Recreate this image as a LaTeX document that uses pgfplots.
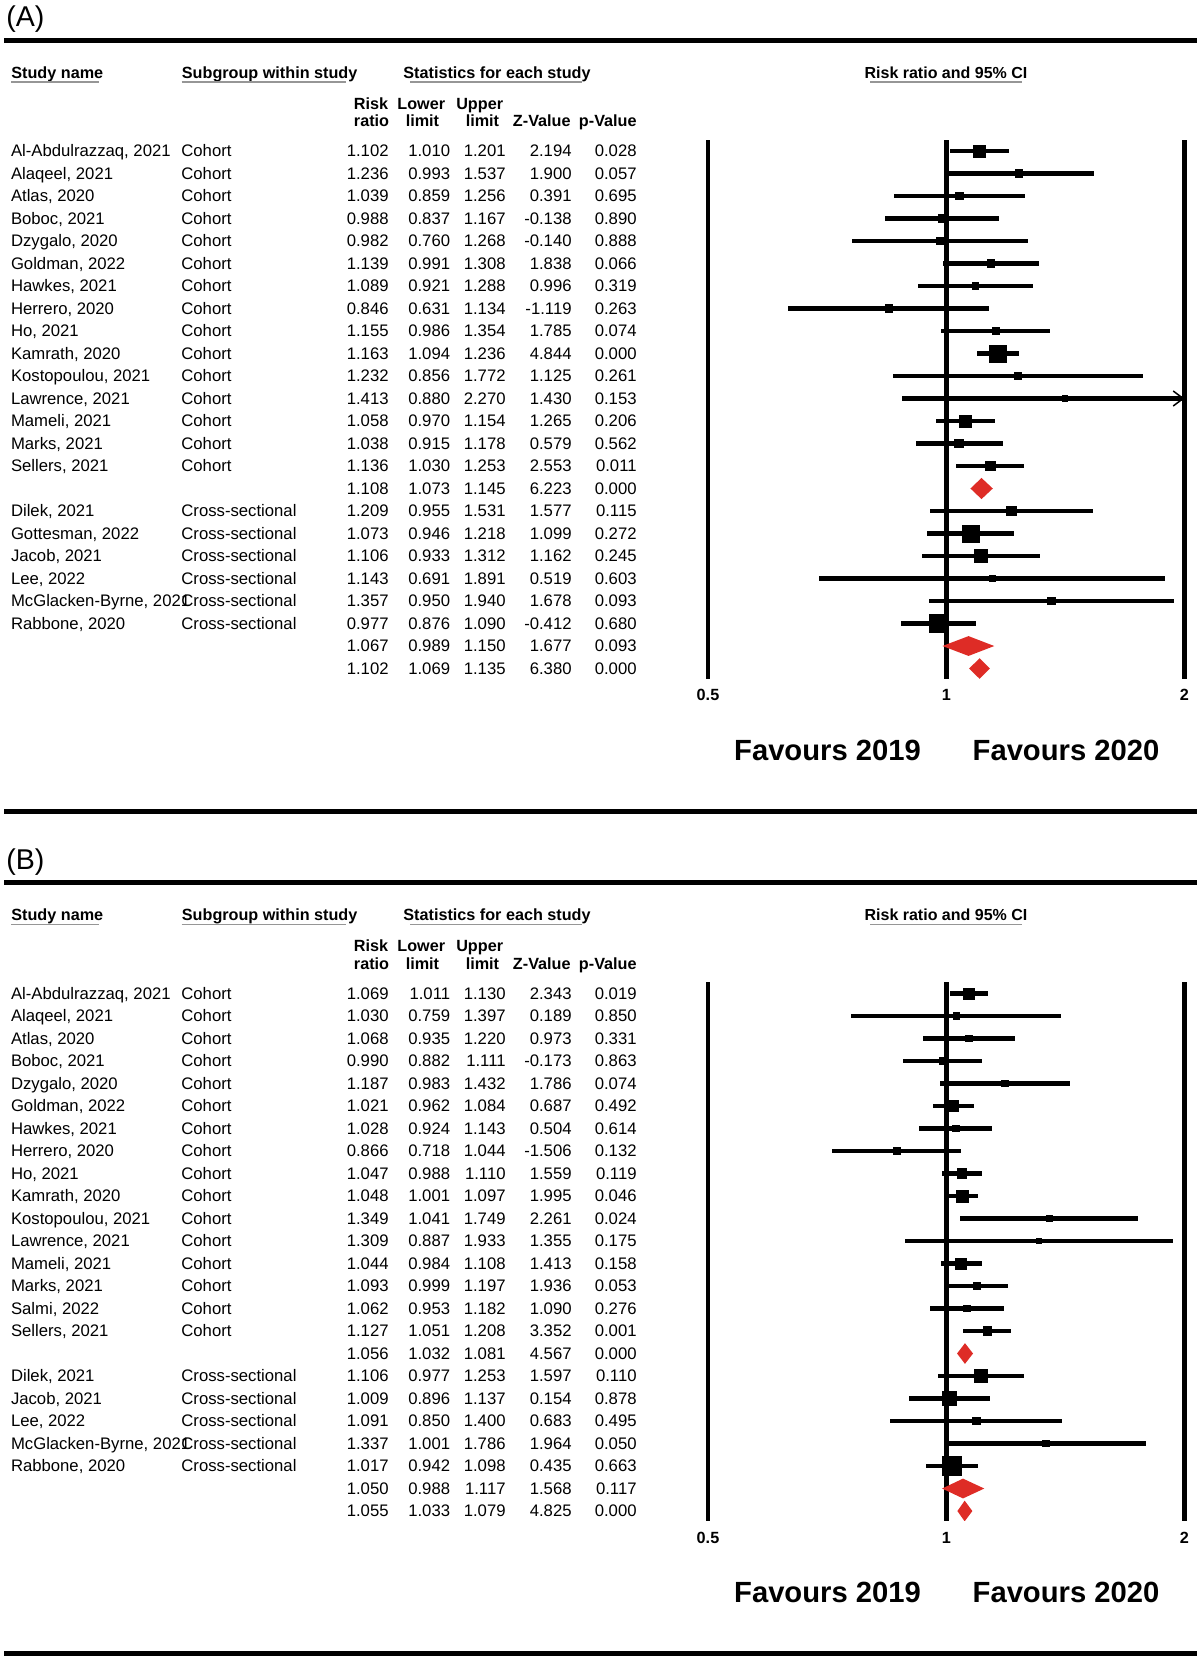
\documentclass[border=0pt]{standalone}
\usepackage{fontspec}
\setmainfont{Liberation Sans}
\usepackage{pgfplots}
\pgfplotsset{compat=1.18}
\usepackage{pgfplotstable}
\usetikzlibrary{arrows.meta}
\definecolor{dred}{RGB}{222,44,38}
\definecolor{ulgray}{RGB}{150,150,150}

\newcommand\rowfont{\fontsize{8.35pt}{10pt}\selectfont}
\newcommand\hdrfont{\bfseries\fontsize{8.1pt}{9.5pt}\selectfont}
\newcommand\cifont{\bfseries\fontsize{8.0pt}{9.5pt}\selectfont}
\newcommand\tickfont{\bfseries\fontsize{8.1pt}{10pt}\selectfont}
\newcommand\favfont{\bfseries\fontsize{14.6pt}{17pt}\selectfont}
\newcommand\panelfont{\fontsize{14.3pt}{17pt}\selectfont}

% Panel A: Risk ratio, lower, upper, Z, p; s = box side (px), t = 1 study / 2 summary
\pgfplotstableread{
k name group rr lo hi z p s t
1 {Al-Abdulrazzaq, 2021} Cohort 1.102 1.010 1.201 2.194 0.028 12 1
2 {Alaqeel, 2021} Cohort 1.236 0.993 1.537 1.900 0.057 8 1
3 {Atlas, 2020} Cohort 1.039 0.859 1.256 0.391 0.695 8 1
4 {Boboc, 2021} Cohort 0.988 0.837 1.167 -0.138 0.890 8 1
5 {Dzygalo, 2020} Cohort 0.982 0.760 1.268 -0.140 0.888 8 1
6 {Goldman, 2022} Cohort 1.139 0.991 1.308 1.838 0.066 8 1
7 {Hawkes, 2021} Cohort 1.089 0.921 1.288 0.996 0.319 7 1
8 {Herrero, 2020} Cohort 0.846 0.631 1.134 -1.119 0.263 8 1
9 {Ho, 2021} Cohort 1.155 0.986 1.354 1.785 0.074 8 1
10 {Kamrath, 2020} Cohort 1.163 1.094 1.236 4.844 0.000 17 1
11 {Kostopoulou, 2021} Cohort 1.232 0.856 1.772 1.125 0.261 7 1
12 {Lawrence, 2021} Cohort 1.413 0.880 2.270 1.430 0.153 6 1
13 {Mameli, 2021} Cohort 1.058 0.970 1.154 1.265 0.206 12 1
14 {Marks, 2021} Cohort 1.038 0.915 1.178 0.579 0.562 9 1
15 {Sellers, 2021} Cohort 1.136 1.030 1.253 2.553 0.011 10 1
16 {} {} 1.108 1.073 1.145 6.223 0.000 0 2
17 {Dilek, 2021} Cross-sectional 1.209 0.955 1.531 1.577 0.115 10 1
18 {Gottesman, 2022} Cross-sectional 1.073 0.946 1.218 1.099 0.272 17 1
19 {Jacob, 2021} Cross-sectional 1.106 0.933 1.312 1.162 0.245 13 1
20 {Lee, 2022} Cross-sectional 1.143 0.691 1.891 0.519 0.603 7 1
21 {McGlacken-Byrne, 2021} Cross-sectional 1.357 0.950 1.940 1.678 0.093 8 1
22 {Rabbone, 2020} Cross-sectional 0.977 0.876 1.090 -0.412 0.680 18 1
23 {} {} 1.067 0.989 1.150 1.677 0.093 0 2
24 {} {} 1.102 1.069 1.135 6.380 0.000 0 2
}\tabA

% Panel B
\pgfplotstableread{
k name group rr lo hi z p s t
1 {Al-Abdulrazzaq, 2021} Cohort 1.069 1.011 1.130 2.343 0.019 11 1
2 {Alaqeel, 2021} Cohort 1.030 0.759 1.397 0.189 0.850 7 1
3 {Atlas, 2020} Cohort 1.068 0.935 1.220 0.973 0.331 7 1
4 {Boboc, 2021} Cohort 0.990 0.882 1.111 -0.173 0.863 7 1
5 {Dzygalo, 2020} Cohort 1.187 0.983 1.432 1.786 0.074 7 1
6 {Goldman, 2022} Cohort 1.021 0.962 1.084 0.687 0.492 11 1
7 {Hawkes, 2021} Cohort 1.028 0.924 1.143 0.504 0.614 7 1
8 {Herrero, 2020} Cohort 0.866 0.718 1.044 -1.506 0.132 7 1
9 {Ho, 2021} Cohort 1.047 0.988 1.110 1.559 0.119 10 1
10 {Kamrath, 2020} Cohort 1.048 1.001 1.097 1.995 0.046 12 1
11 {Kostopoulou, 2021} Cohort 1.349 1.041 1.749 2.261 0.024 6 1
12 {Lawrence, 2021} Cohort 1.309 0.887 1.933 1.355 0.175 6 1
13 {Mameli, 2021} Cohort 1.044 0.984 1.108 1.413 0.158 11 1
14 {Marks, 2021} Cohort 1.093 0.999 1.197 1.936 0.053 8 1
15 {Salmi, 2022} Cohort 1.062 0.953 1.182 1.090 0.276 7 1
16 {Sellers, 2021} Cohort 1.127 1.051 1.208 3.352 0.001 9 1
17 {} {} 1.056 1.032 1.081 4.567 0.000 0 2
18 {Dilek, 2021} Cross-sectional 1.106 0.977 1.253 1.597 0.110 13 1
19 {Jacob, 2021} Cross-sectional 1.009 0.896 1.137 0.154 0.878 14 1
20 {Lee, 2022} Cross-sectional 1.091 0.850 1.400 0.683 0.495 8 1
21 {McGlacken-Byrne, 2021} Cross-sectional 1.337 1.001 1.786 1.964 0.050 7 1
22 {Rabbone, 2020} Cross-sectional 1.017 0.942 1.098 0.435 0.663 19 1
23 {} {} 1.050 0.988 1.117 1.568 0.117 0 2
24 {} {} 1.055 1.033 1.079 4.825 0.000 0 2
}\tabB

\newcommand\forestbody[1]{%
  \addplot[line width=2.1pt] coordinates {(0.5,0) (0.5,30)};
  \addplot[line width=2.6pt] coordinates {(1,0) (1,30)};
  \addplot[line width=2.1pt] coordinates {(2,0) (2,30)};
  \addplot[scatter, only marks, mark=square*,
    scatter/use mapped color={draw=black, fill=black},
    visualization depends on={\thisrow{s}/3.8-0.2 \as \msz},
    scatter/@pre marker code/.append style={/tikz/mark size=\msz},
    restrict expr to domain={\thisrow{t}}{0.5:1.5},
    error bars/.cd, x dir=both, x explicit, error mark=none,
    error bar style={line width=2.15pt, draw=black}]
    table[x=rr, y=k,
      x error plus expr={min(\thisrow{hi},2)-\thisrow{rr}},
      x error minus expr={\thisrow{rr}-\thisrow{lo}}] {#1};
}

\newcommand\tabletext[2]{%
  \foreach \i in {0,...,23}{
    \pgfmathsetmacro\yy{156.7+22.5*\i+#2}
    \pgfplotstablegetelem{\i}{name}\of#1
    \node[anchor=base west,font=\rowfont,inner sep=0pt] at (10.6,\yy) {\pgfplotsretval};
    \pgfplotstablegetelem{\i}{group}\of#1
    \node[anchor=base west,font=\rowfont,inner sep=0pt] at (181,\yy) {\pgfplotsretval};
    \pgfplotstablegetelem{\i}{rr}\of#1
    \node[anchor=base east,font=\rowfont,inner sep=0pt] at (389,\yy) {\pgfplotsretval};
    \pgfplotstablegetelem{\i}{lo}\of#1
    \node[anchor=base east,font=\rowfont,inner sep=0pt] at (450.5,\yy) {\pgfplotsretval};
    \pgfplotstablegetelem{\i}{hi}\of#1
    \node[anchor=base east,font=\rowfont,inner sep=0pt] at (506,\yy) {\pgfplotsretval};
    \pgfplotstablegetelem{\i}{z}\of#1
    \node[anchor=base east,font=\rowfont,inner sep=0pt] at (572,\yy) {\pgfplotsretval};
    \pgfplotstablegetelem{\i}{p}\of#1
    \node[anchor=base east,font=\rowfont,inner sep=0pt] at (637,\yy) {\pgfplotsretval};
  }%
}

\newcommand\panelhead[2]{%
  \node[anchor=base west,font=\panelfont,inner sep=0pt] at (6,{26.5+#2}) {#1};
  \draw[line width=2.5pt] (4,{40+#2}) -- (1197,{40+#2});
  \node[anchor=base west,font=\hdrfont,inner sep=0pt] at (11,{78+#2}) {Study name};
  \draw[ulgray,line width=0.8pt] (11,{82+#2}) -- (99,{82+#2});
  \node[anchor=base west,font=\hdrfont,inner sep=0pt] at (181.5,{78+#2}) {Subgroup within study};
  \draw[ulgray,line width=0.8pt] (181.5,{82+#2}) -- (346,{82+#2});
  \node[anchor=base west,font=\hdrfont,inner sep=0pt] at (403,{78+#2}) {Statistics for each study};
  \draw[ulgray,line width=0.8pt] (410,{82+#2}) -- (582,{82+#2});
  \node[anchor=base,font=\cifont,inner sep=0pt] at (946,{78+#2}) {Risk ratio and 95\% CI};
  \draw[ulgray,line width=0.8pt] (870,{82+#2}) -- (1022,{82+#2});
  \node[anchor=base east,font=\hdrfont,inner sep=0pt] at (388.5,{109.3+#2}) {Risk};
  \node[anchor=base east,font=\hdrfont,inner sep=0pt] at (389.5,{126.7+#2}) {ratio};
  \node[anchor=base east,font=\hdrfont,inner sep=0pt] at (445.5,{109.3+#2}) {Lower};
  \node[anchor=base east,font=\hdrfont,inner sep=0pt] at (439.5,{126.7+#2}) {limit};
  \node[anchor=base east,font=\hdrfont,inner sep=0pt] at (503.5,{109.3+#2}) {Upper};
  \node[anchor=base east,font=\hdrfont,inner sep=0pt] at (499.5,{126.7+#2}) {limit};
  \node[anchor=base east,font=\hdrfont,inner sep=0pt] at (571,{126.7+#2}) {Z-Value};
  \node[anchor=base east,font=\hdrfont,inner sep=0pt] at (637,{126.7+#2}) {p-Value};
  \node[anchor=base,font=\favfont,inner sep=0pt] at (827.5,{760+#2}) {Favours 2019};
  \node[anchor=base,font=\favfont,inner sep=0pt] at (1066,{760+#2}) {Favours 2020};
}

\begin{document}
\begin{tikzpicture}
\begin{scope}[x=0.5pt,y=-0.5pt]
  \path (0,0) rectangle (1202,1660);
  \panelhead{(A)}{0}
  \tabletext{\tabA}{0}
  \draw[line width=2.5pt] (4,811) -- (1197,811);
  \panelhead{(B)}{842.5}
  \tabletext{\tabB}{842.5}
  \draw[line width=2.5pt] (4,1653) -- (1197,1653);
\end{scope}

\begin{axis}[at={(351.25pt,-339pt)},
  anchor=south west, scale only axis, width=243.75pt, height=269pt,
  xmode=log, xmin=0.49207, xmax=2.03225,
  ymin=0.5111, ymax=24.4222, y dir=reverse,
  axis line style={draw=none}, ytick=\empty,
  xtick={0.5,1,2}, xticklabels={0.5,1,2},
  major tick length=0pt, minor tick length=0pt,
  xticklabel style={font=\tickfont, inner sep=0pt, anchor=north, yshift=-5.5pt}]
  \forestbody{\tabA}
  \addplot[line width=0.75pt, -{Straight Barb[length=5pt,width=7.5pt]}] coordinates {(1.8,12) (2,12)};
  \addplot[fill=dred, draw=none] coordinates {(1.073,16) (1.108,15.53) (1.145,16) (1.108,16.47)} -- cycle;
  \addplot[fill=dred, draw=none] coordinates {(0.989,23) (1.067,22.56) (1.150,23) (1.067,23.44)} -- cycle;
  \addplot[fill=dred, draw=none] coordinates {(1.069,24) (1.102,23.54) (1.135,24) (1.102,24.46)} -- cycle;
\end{axis}

\begin{axis}[at={(351.25pt,-760.25pt)},
  anchor=south west, scale only axis, width=243.75pt, height=269pt,
  xmode=log, xmin=0.49207, xmax=2.03225,
  ymin=0.5111, ymax=24.4222, y dir=reverse,
  axis line style={draw=none}, ytick=\empty,
  xtick={0.5,1,2}, xticklabels={0.5,1,2},
  major tick length=0pt, minor tick length=0pt,
  xticklabel style={font=\tickfont, inner sep=0pt, anchor=north, yshift=-5.5pt}]
  \forestbody{\tabB}
  \addplot[fill=dred, draw=none] coordinates {(1.032,17) (1.056,16.54) (1.081,17) (1.056,17.46)} -- cycle;
  \addplot[fill=dred, draw=none] coordinates {(0.988,23) (1.050,22.56) (1.117,23) (1.050,23.44)} -- cycle;
  \addplot[fill=dred, draw=none] coordinates {(1.033,24) (1.055,23.54) (1.079,24) (1.055,24.46)} -- cycle;
\end{axis}
\end{tikzpicture}
\end{document}
